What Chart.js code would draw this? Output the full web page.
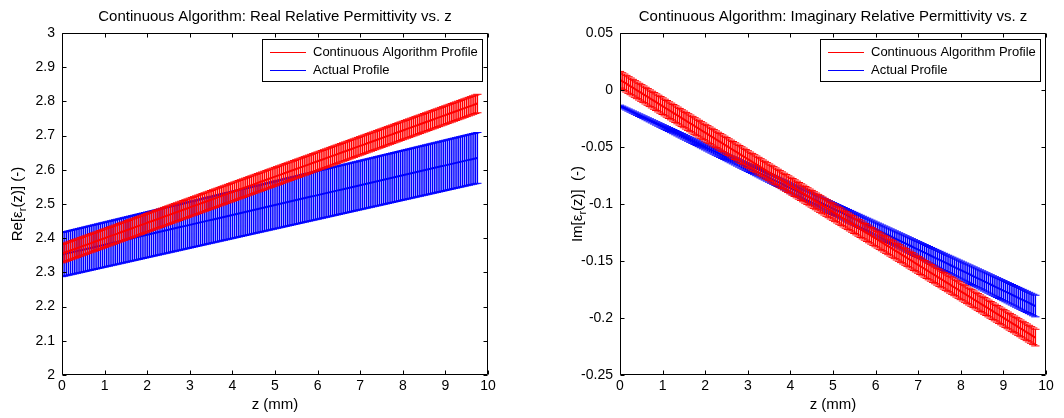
<!DOCTYPE html>
<html>
<head>
<meta charset="utf-8">
<title>Continuous Algorithm: Relative Permittivity vs. z</title>
<script src="https://cdn.jsdelivr.net/npm/chart.js@4.4.1/dist/chart.umd.min.js"></script>
<style>
  html, body { margin: 0; padding: 0; background: #fff; }
  #wrap { position: relative; width: 1064px; height: 418px; overflow: hidden; }
  .panel { position: absolute; top: 0; width: 532px; height: 418px; }
</style>
</head>
<body>
<div id="wrap">
  <div class="panel" style="left:0"><canvas id="re-chart" width="532" height="418"></canvas></div>
  <div class="panel" style="left:532px"><canvas id="im-chart" width="532" height="418"></canvas></div>
</div>
<script>
// z positions (mm), shared by every profile
const zMm = [
  0,0.05,0.1,0.15,0.2,0.25,0.3,0.35,0.4,0.45,0.5,0.55,0.6,0.65,0.7,0.75,0.8,0.85,0.9,0.95,
  1,1.05,1.1,1.15,1.2,1.25,1.3,1.35,1.4,1.45,1.5,1.55,1.6,1.65,1.7,1.75,1.8,1.85,1.9,1.95,
  2,2.05,2.1,2.15,2.2,2.25,2.3,2.35,2.4,2.45,2.5,2.55,2.6,2.65,2.7,2.75,2.8,2.85,2.9,2.95,
  3,3.05,3.1,3.15,3.2,3.25,3.3,3.35,3.4,3.45,3.5,3.55,3.6,3.65,3.7,3.75,3.8,3.85,3.9,3.95,
  4,4.05,4.1,4.15,4.2,4.25,4.3,4.35,4.4,4.45,4.5,4.55,4.6,4.65,4.7,4.75,4.8,4.85,4.9,4.95,
  5,5.05,5.1,5.15,5.2,5.25,5.3,5.35,5.4,5.45,5.5,5.55,5.6,5.65,5.7,5.75,5.8,5.85,5.9,5.95,
  6,6.05,6.1,6.15,6.2,6.25,6.3,6.35,6.4,6.45,6.5,6.55,6.6,6.65,6.7,6.75,6.8,6.85,6.9,6.95,
  7,7.05,7.1,7.15,7.2,7.25,7.3,7.35,7.4,7.45,7.5,7.55,7.6,7.65,7.7,7.75,7.8,7.85,7.9,7.95,
  8,8.05,8.1,8.15,8.2,8.25,8.3,8.35,8.4,8.45,8.5,8.55,8.6,8.65,8.7,8.75,8.8,8.85,8.9,8.95,
  9,9.05,9.1,9.15,9.2,9.25,9.3,9.35,9.4,9.45,9.5,9.55,9.6,9.65,9.7,9.75
];

const xTicks = [0, 1, 2, 3, 4, 5, 6, 7, 8, 9, 10];
const xTickLabels = ['0', '1', '2', '3', '4', '5', '6', '7', '8', '9', '10'];
const reTicks = [2, 2.1, 2.2, 2.3, 2.4, 2.5, 2.6, 2.7, 2.8, 2.9, 3];
const reTickLabels = ['2', '2.1', '2.2', '2.3', '2.4', '2.5', '2.6', '2.7', '2.8', '2.9', '3'];
const imTicks = [-0.25, -0.2, -0.15, -0.1, -0.05, 0, 0.05];
const imTickLabels = ['-0.25', '-0.2', '-0.15', '-0.1', '-0.05', '0', '0.05'];

const seriesNames = ['Continuous Algorithm Profile', 'Actual Profile'];
const seriesColors = ['#ff0000', '#0000ff'];

// Re[eps_r] - continuous algorithm (red)
const reAlgo = [
  2.355,2.35725,2.3595,2.36175,2.364,2.36625,2.3685,2.37075,
  2.373,2.37525,2.3775,2.37975,2.382,2.38425,2.3865,2.38875,
  2.391,2.39325,2.3955,2.39775,2.4,2.40225,2.4045,2.40675,
  2.409,2.41125,2.4135,2.41575,2.418,2.42025,2.4225,2.42475,
  2.427,2.42925,2.4315,2.43375,2.436,2.43825,2.4405,2.44275,
  2.445,2.44725,2.4495,2.45175,2.454,2.45625,2.4585,2.46075,
  2.463,2.46525,2.4675,2.46975,2.472,2.47425,2.4765,2.47875,
  2.481,2.48325,2.4855,2.48775,2.49,2.49225,2.4945,2.49675,
  2.499,2.50125,2.5035,2.50575,2.508,2.51025,2.5125,2.51475,
  2.517,2.51925,2.5215,2.52375,2.526,2.52825,2.5305,2.53275,
  2.535,2.53725,2.5395,2.54175,2.544,2.54625,2.5485,2.55075,
  2.553,2.55525,2.5575,2.55975,2.562,2.56425,2.5665,2.56875,
  2.571,2.57325,2.5755,2.57775,2.58,2.58225,2.5845,2.58675,
  2.589,2.59125,2.5935,2.59575,2.598,2.60025,2.6025,2.60475,
  2.607,2.60925,2.6115,2.61375,2.616,2.61825,2.6205,2.62275,
  2.625,2.62725,2.6295,2.63175,2.634,2.63625,2.6385,2.64075,
  2.643,2.64525,2.6475,2.64975,2.652,2.65425,2.6565,2.65875,
  2.661,2.66325,2.6655,2.66775,2.67,2.67225,2.6745,2.67675,
  2.679,2.68125,2.6835,2.68575,2.688,2.69025,2.6925,2.69475,
  2.697,2.69925,2.7015,2.70375,2.706,2.70825,2.7105,2.71275,
  2.715,2.71725,2.7195,2.72175,2.724,2.72625,2.7285,2.73075,
  2.733,2.73525,2.7375,2.73975,2.742,2.74425,2.7465,2.74875,
  2.751,2.75325,2.7555,2.75775,2.76,2.76225,2.7645,2.76675,
  2.769,2.77125,2.7735,2.77575,2.778,2.78025,2.7825,2.78475,
  2.787,2.78925,2.7915,2.79375
];
const reAlgoErr = [
  0.027,0.027,0.027,0.027,0.027,0.027,0.027,0.027,0.027,0.027,0.027,0.027,0.027,0.027,
  0.027,0.027,0.027,0.027,0.027,0.027,0.027,0.027,0.027,0.027,0.027,0.027,0.027,0.027,
  0.027,0.027,0.027,0.027,0.027,0.027,0.027,0.027,0.027,0.027,0.027,0.027,0.027,0.027,
  0.027,0.027,0.027,0.027,0.027,0.027,0.027,0.027,0.027,0.027,0.027,0.027,0.027,0.027,
  0.027,0.027,0.027,0.027,0.027,0.027,0.027,0.027,0.027,0.027,0.027,0.027,0.027,0.027,
  0.027,0.027,0.027,0.027,0.027,0.027,0.027,0.027,0.027,0.027,0.027,0.027,0.027,0.027,
  0.027,0.027,0.027,0.027,0.027,0.027,0.027,0.027,0.027,0.027,0.027,0.027,0.027,0.027,
  0.027,0.027,0.027,0.027,0.027,0.027,0.027,0.027,0.027,0.027,0.027,0.027,0.027,0.027,
  0.027,0.027,0.027,0.027,0.027,0.027,0.027,0.027,0.027,0.027,0.027,0.027,0.027,0.027,
  0.027,0.027,0.027,0.027,0.027,0.027,0.027,0.027,0.027,0.027,0.027,0.027,0.027,0.027,
  0.027,0.027,0.027,0.027,0.027,0.027,0.027,0.027,0.027,0.027,0.027,0.027,0.027,0.027,
  0.027,0.027,0.027,0.027,0.027,0.027,0.027,0.027,0.027,0.027,0.027,0.027,0.027,0.027,
  0.027,0.027,0.027,0.027,0.027,0.027,0.027,0.027,0.027,0.027,0.027,0.027,0.027,0.027,
  0.027,0.027,0.027,0.027,0.027,0.027,0.027,0.027,0.027,0.027,0.027,0.027,0.027,0.027
];

// Re[eps_r] - actual profile (blue)
const reActual = [
  2.352,2.35345,2.3549,2.35635,2.3578,2.35925,2.3607,2.36215,
  2.3636,2.36505,2.3665,2.36795,2.3694,2.37085,2.3723,2.37375,
  2.3752,2.37665,2.3781,2.37955,2.381,2.38245,2.3839,2.38535,
  2.3868,2.38825,2.3897,2.39115,2.3926,2.39405,2.3955,2.39695,
  2.3984,2.39985,2.4013,2.40275,2.4042,2.40565,2.4071,2.40855,
  2.41,2.41145,2.4129,2.41435,2.4158,2.41725,2.4187,2.42015,
  2.4216,2.42305,2.4245,2.42595,2.4274,2.42885,2.4303,2.43175,
  2.4332,2.43465,2.4361,2.43755,2.439,2.44045,2.4419,2.44335,
  2.4448,2.44625,2.4477,2.44915,2.4506,2.45205,2.4535,2.45495,
  2.4564,2.45785,2.4593,2.46075,2.4622,2.46365,2.4651,2.46655,
  2.468,2.46945,2.4709,2.47235,2.4738,2.47525,2.4767,2.47815,
  2.4796,2.48105,2.4825,2.48395,2.4854,2.48685,2.4883,2.48975,
  2.4912,2.49265,2.4941,2.49555,2.497,2.49845,2.4999,2.50135,
  2.5028,2.50425,2.5057,2.50715,2.5086,2.51005,2.5115,2.51295,
  2.5144,2.51585,2.5173,2.51875,2.5202,2.52165,2.5231,2.52455,
  2.526,2.52745,2.5289,2.53035,2.5318,2.53325,2.5347,2.53615,
  2.5376,2.53905,2.5405,2.54195,2.5434,2.54485,2.5463,2.54775,
  2.5492,2.55065,2.5521,2.55355,2.555,2.55645,2.5579,2.55935,
  2.5608,2.56225,2.5637,2.56515,2.5666,2.56805,2.5695,2.57095,
  2.5724,2.57385,2.5753,2.57675,2.5782,2.57965,2.5811,2.58255,
  2.584,2.58545,2.5869,2.58835,2.5898,2.59125,2.5927,2.59415,
  2.5956,2.59705,2.5985,2.59995,2.6014,2.60285,2.6043,2.60575,
  2.6072,2.60865,2.6101,2.61155,2.613,2.61445,2.6159,2.61735,
  2.6188,2.62025,2.6217,2.62315,2.6246,2.62605,2.6275,2.62895,
  2.6304,2.63185,2.6333,2.63475
];
const reActualErr = [
  0.0645,0.06455,0.0646,0.06465,0.0647,0.06475,0.0648,0.06485,
  0.0649,0.06495,0.065,0.06505,0.0651,0.06515,0.0652,0.06525,
  0.0653,0.06535,0.0654,0.06545,0.0655,0.06555,0.0656,0.06565,
  0.0657,0.06575,0.0658,0.06585,0.0659,0.06595,0.066,0.06605,
  0.0661,0.06615,0.0662,0.06625,0.0663,0.06635,0.0664,0.06645,
  0.0665,0.06655,0.0666,0.06665,0.0667,0.06675,0.0668,0.06685,
  0.0669,0.06695,0.067,0.06705,0.0671,0.06715,0.0672,0.06725,
  0.0673,0.06735,0.0674,0.06745,0.0675,0.06755,0.0676,0.06765,
  0.0677,0.06775,0.0678,0.06785,0.0679,0.06795,0.068,0.06805,
  0.0681,0.06815,0.0682,0.06825,0.0683,0.06835,0.0684,0.06845,
  0.0685,0.06855,0.0686,0.06865,0.0687,0.06875,0.0688,0.06885,
  0.0689,0.06895,0.069,0.06905,0.0691,0.06915,0.0692,0.06925,
  0.0693,0.06935,0.0694,0.06945,0.0695,0.06955,0.0696,0.06965,
  0.0697,0.06975,0.0698,0.06985,0.0699,0.06995,0.07,0.07005,
  0.0701,0.07015,0.0702,0.07025,0.0703,0.07035,0.0704,0.07045,
  0.0705,0.07055,0.0706,0.07065,0.0707,0.07075,0.0708,0.07085,
  0.0709,0.07095,0.071,0.07105,0.0711,0.07115,0.0712,0.07125,
  0.0713,0.07135,0.0714,0.07145,0.0715,0.07155,0.0716,0.07165,
  0.0717,0.07175,0.0718,0.07185,0.0719,0.07195,0.072,0.07205,
  0.0721,0.07215,0.0722,0.07225,0.0723,0.07235,0.0724,0.07245,
  0.0725,0.07255,0.0726,0.07265,0.0727,0.07275,0.0728,0.07285,
  0.0729,0.07295,0.073,0.07305,0.0731,0.07315,0.0732,0.07325,
  0.0733,0.07335,0.0734,0.07345,0.0735,0.07355,0.0736,0.07365,
  0.0737,0.07375,0.0738,0.07385,0.0739,0.07395,0.074,0.07405,
  0.0741,0.07415,0.0742,0.07425
];

// Im[eps_r] - continuous algorithm (red)
const imAlgo = [
  0.009,0.00784,0.00668,0.00552,0.00436,0.0032,0.00204,0.00088,
  -0.00028,-0.00144,-0.0026,-0.00376,-0.00492,-0.00608,-0.00724,-0.0084,
  -0.00956,-0.01072,-0.01188,-0.01304,-0.0142,-0.01536,-0.01652,-0.01768,
  -0.01884,-0.02,-0.02116,-0.02232,-0.02348,-0.02464,-0.0258,-0.02696,
  -0.02812,-0.02928,-0.03044,-0.0316,-0.03276,-0.03392,-0.03508,-0.03624,
  -0.0374,-0.03856,-0.03972,-0.04088,-0.04204,-0.0432,-0.04436,-0.04552,
  -0.04668,-0.04784,-0.049,-0.05016,-0.05132,-0.05248,-0.05364,-0.0548,
  -0.05596,-0.05712,-0.05828,-0.05944,-0.0606,-0.06176,-0.06292,-0.06408,
  -0.06524,-0.0664,-0.06756,-0.06872,-0.06988,-0.07104,-0.0722,-0.07336,
  -0.07452,-0.07568,-0.07684,-0.078,-0.07916,-0.08032,-0.08148,-0.08264,
  -0.0838,-0.08496,-0.08612,-0.08728,-0.08844,-0.0896,-0.09076,-0.09192,
  -0.09308,-0.09424,-0.0954,-0.09656,-0.09772,-0.09888,-0.10004,-0.1012,
  -0.10236,-0.10352,-0.10468,-0.10584,-0.107,-0.10816,-0.10932,-0.11048,
  -0.11164,-0.1128,-0.11396,-0.11512,-0.11628,-0.11744,-0.1186,-0.11976,
  -0.12092,-0.12208,-0.12324,-0.1244,-0.12556,-0.12672,-0.12788,-0.12904,
  -0.1302,-0.13136,-0.13252,-0.13368,-0.13484,-0.136,-0.13716,-0.13832,
  -0.13948,-0.14064,-0.1418,-0.14296,-0.14412,-0.14528,-0.14644,-0.1476,
  -0.14876,-0.14992,-0.15108,-0.15224,-0.1534,-0.15456,-0.15572,-0.15688,
  -0.15804,-0.1592,-0.16036,-0.16152,-0.16268,-0.16384,-0.165,-0.16616,
  -0.16732,-0.16848,-0.16964,-0.1708,-0.17196,-0.17312,-0.17428,-0.17544,
  -0.1766,-0.17776,-0.17892,-0.18008,-0.18124,-0.1824,-0.18356,-0.18472,
  -0.18588,-0.18704,-0.1882,-0.18936,-0.19052,-0.19168,-0.19284,-0.194,
  -0.19516,-0.19632,-0.19748,-0.19864,-0.1998,-0.20096,-0.20212,-0.20328,
  -0.20444,-0.2056,-0.20676,-0.20792,-0.20908,-0.21024,-0.2114,-0.21256,
  -0.21372,-0.21488,-0.21604,-0.2172
];
const imAlgoErr = [
  0.0073,0.0073,0.0073,0.0073,0.0073,0.0073,0.0073,0.0073,0.0073,0.0073,0.0073,0.0073,0.0073,0.0073,
  0.0073,0.0073,0.0073,0.0073,0.0073,0.0073,0.0073,0.0073,0.0073,0.0073,0.0073,0.0073,0.0073,0.0073,
  0.0073,0.0073,0.0073,0.0073,0.0073,0.0073,0.0073,0.0073,0.0073,0.0073,0.0073,0.0073,0.0073,0.0073,
  0.0073,0.0073,0.0073,0.0073,0.0073,0.0073,0.0073,0.0073,0.0073,0.0073,0.0073,0.0073,0.0073,0.0073,
  0.0073,0.0073,0.0073,0.0073,0.0073,0.0073,0.0073,0.0073,0.0073,0.0073,0.0073,0.0073,0.0073,0.0073,
  0.0073,0.0073,0.0073,0.0073,0.0073,0.0073,0.0073,0.0073,0.0073,0.0073,0.0073,0.0073,0.0073,0.0073,
  0.0073,0.0073,0.0073,0.0073,0.0073,0.0073,0.0073,0.0073,0.0073,0.0073,0.0073,0.0073,0.0073,0.0073,
  0.0073,0.0073,0.0073,0.0073,0.0073,0.0073,0.0073,0.0073,0.0073,0.0073,0.0073,0.0073,0.0073,0.0073,
  0.0073,0.0073,0.0073,0.0073,0.0073,0.0073,0.0073,0.0073,0.0073,0.0073,0.0073,0.0073,0.0073,0.0073,
  0.0073,0.0073,0.0073,0.0073,0.0073,0.0073,0.0073,0.0073,0.0073,0.0073,0.0073,0.0073,0.0073,0.0073,
  0.0073,0.0073,0.0073,0.0073,0.0073,0.0073,0.0073,0.0073,0.0073,0.0073,0.0073,0.0073,0.0073,0.0073,
  0.0073,0.0073,0.0073,0.0073,0.0073,0.0073,0.0073,0.0073,0.0073,0.0073,0.0073,0.0073,0.0073,0.0073,
  0.0073,0.0073,0.0073,0.0073,0.0073,0.0073,0.0073,0.0073,0.0073,0.0073,0.0073,0.0073,0.0073,0.0073,
  0.0073,0.0073,0.0073,0.0073,0.0073,0.0073,0.0073,0.0073,0.0073,0.0073,0.0073,0.0073,0.0073,0.0073
];

// Im[eps_r] - actual profile (blue)
const imActual = [
  -0.014,-0.0149,-0.0158,-0.0167,-0.0176,-0.0185,-0.0194,-0.0203,
  -0.0212,-0.0221,-0.023,-0.0239,-0.0248,-0.0257,-0.0266,-0.0275,
  -0.0284,-0.0293,-0.0302,-0.0311,-0.032,-0.0329,-0.0338,-0.0347,
  -0.0356,-0.0365,-0.0374,-0.0383,-0.0392,-0.0401,-0.041,-0.0419,
  -0.0428,-0.0437,-0.0446,-0.0455,-0.0464,-0.0473,-0.0482,-0.0491,
  -0.05,-0.0509,-0.0518,-0.0527,-0.0536,-0.0545,-0.0554,-0.0563,
  -0.0572,-0.0581,-0.059,-0.0599,-0.0608,-0.0617,-0.0626,-0.0635,
  -0.0644,-0.0653,-0.0662,-0.0671,-0.068,-0.0689,-0.0698,-0.0707,
  -0.0716,-0.0725,-0.0734,-0.0743,-0.0752,-0.0761,-0.077,-0.0779,
  -0.0788,-0.0797,-0.0806,-0.0815,-0.0824,-0.0833,-0.0842,-0.0851,
  -0.086,-0.0869,-0.0878,-0.0887,-0.0896,-0.0905,-0.0914,-0.0923,
  -0.0932,-0.0941,-0.095,-0.0959,-0.0968,-0.0977,-0.0986,-0.0995,
  -0.1004,-0.1013,-0.1022,-0.1031,-0.104,-0.1049,-0.1058,-0.1067,
  -0.1076,-0.1085,-0.1094,-0.1103,-0.1112,-0.1121,-0.113,-0.1139,
  -0.1148,-0.1157,-0.1166,-0.1175,-0.1184,-0.1193,-0.1202,-0.1211,
  -0.122,-0.1229,-0.1238,-0.1247,-0.1256,-0.1265,-0.1274,-0.1283,
  -0.1292,-0.1301,-0.131,-0.1319,-0.1328,-0.1337,-0.1346,-0.1355,
  -0.1364,-0.1373,-0.1382,-0.1391,-0.14,-0.1409,-0.1418,-0.1427,
  -0.1436,-0.1445,-0.1454,-0.1463,-0.1472,-0.1481,-0.149,-0.1499,
  -0.1508,-0.1517,-0.1526,-0.1535,-0.1544,-0.1553,-0.1562,-0.1571,
  -0.158,-0.1589,-0.1598,-0.1607,-0.1616,-0.1625,-0.1634,-0.1643,
  -0.1652,-0.1661,-0.167,-0.1679,-0.1688,-0.1697,-0.1706,-0.1715,
  -0.1724,-0.1733,-0.1742,-0.1751,-0.176,-0.1769,-0.1778,-0.1787,
  -0.1796,-0.1805,-0.1814,-0.1823,-0.1832,-0.1841,-0.185,-0.1859,
  -0.1868,-0.1877,-0.1886,-0.1895
];
const imActualErr = [
  0.0007,0.000745,0.00079,0.000835,0.00088,0.000925,0.00097,0.001015,
  0.00106,0.001105,0.00115,0.001195,0.00124,0.001285,0.00133,0.001375,
  0.00142,0.001465,0.00151,0.001555,0.0016,0.001645,0.00169,0.001735,
  0.00178,0.001825,0.00187,0.001915,0.00196,0.002005,0.00205,0.002095,
  0.00214,0.002185,0.00223,0.002275,0.00232,0.002365,0.00241,0.002455,
  0.0025,0.002545,0.00259,0.002635,0.00268,0.002725,0.00277,0.002815,
  0.00286,0.002905,0.00295,0.002995,0.00304,0.003085,0.00313,0.003175,
  0.00322,0.003265,0.00331,0.003355,0.0034,0.003445,0.00349,0.003535,
  0.00358,0.003625,0.00367,0.003715,0.00376,0.003805,0.00385,0.003895,
  0.00394,0.003985,0.00403,0.004075,0.00412,0.004165,0.00421,0.004255,
  0.0043,0.004345,0.00439,0.004435,0.00448,0.004525,0.00457,0.004615,
  0.00466,0.004705,0.00475,0.004795,0.00484,0.004885,0.00493,0.004975,
  0.00502,0.005065,0.00511,0.005155,0.0052,0.005245,0.00529,0.005335,
  0.00538,0.005425,0.00547,0.005515,0.00556,0.005605,0.00565,0.005695,
  0.00574,0.005785,0.00583,0.005875,0.00592,0.005965,0.00601,0.006055,
  0.0061,0.006145,0.00619,0.006235,0.00628,0.006325,0.00637,0.006415,
  0.00646,0.006505,0.00655,0.006595,0.00664,0.006685,0.00673,0.006775,
  0.00682,0.006865,0.00691,0.006955,0.007,0.007045,0.00709,0.007135,
  0.00718,0.007225,0.00727,0.007315,0.00736,0.007405,0.00745,0.007495,
  0.00754,0.007585,0.00763,0.007675,0.00772,0.007765,0.00781,0.007855,
  0.0079,0.007945,0.00799,0.008035,0.00808,0.008125,0.00817,0.008215,
  0.00826,0.008305,0.00835,0.008395,0.00844,0.008485,0.00853,0.008575,
  0.00862,0.008665,0.00871,0.008755,0.0088,0.008845,0.00889,0.008935,
  0.00898,0.009025,0.00907,0.009115,0.00916,0.009205,0.00925,0.009295,
  0.00934,0.009385,0.00943,0.009475
];

const FONT = '"Liberation Sans", Arial, Helvetica, sans-serif';
const CAP_HALF = 0.0975; // half width of an error bar cap, in mm
const TICK_LEN = 4;
Chart.defaults.font.family = FONT;
Chart.defaults.color = '#000';

// vertical error bars with caps, drawn right after each dataset so stacking order is kept
const errorBarPlugin = {
  id: 'errorBars',
  afterDatasetDraw(chart, args) {
    const ds = chart.data.datasets[args.index];
    if (!ds.errors) return;
    const { ctx, chartArea: a, scales: { x, y } } = chart;
    const pts = ds.data.map((p, i) => ({
      px: x.getPixelForValue(p.x),
      x0: x.getPixelForValue(p.x - CAP_HALF),
      x1: x.getPixelForValue(p.x + CAP_HALF),
      top: y.getPixelForValue(p.y + ds.errors[i]),
      bot: y.getPixelForValue(p.y - ds.errors[i])
    }));
    ctx.save();
    ctx.beginPath();
    ctx.rect(a.left, a.top, a.right - a.left, a.bottom - a.top);
    ctx.clip();
    ctx.strokeStyle = ds.borderColor;
    // stems
    ctx.lineWidth = 1.5;
    ctx.beginPath();
    pts.forEach(p => { ctx.moveTo(p.px, p.top); ctx.lineTo(p.px, p.bot); });
    ctx.stroke();
    // caps
    ctx.lineWidth = 1;
    ctx.beginPath();
    pts.forEach(p => {
      ctx.moveTo(p.x0, p.top); ctx.lineTo(p.x1, p.top);
      ctx.moveTo(p.x0, p.bot); ctx.lineTo(p.x1, p.bot);
    });
    ctx.stroke();
    ctx.restore();
  }
};

// MATLAB-looking axes box, inward ticks, title, y label and legend
const framePlugin = {
  id: 'matlabFrame',
  afterDraw(chart, args, opts) {
    const { ctx, chartArea: a, scales: { x, y } } = chart;
    ctx.save();
    ctx.strokeStyle = '#000';
    ctx.lineWidth = 1;
    const L = Math.round(a.left) + 0.5, R = Math.round(a.right) - 0.5;
    const T = Math.round(a.top) + 0.5, B = Math.round(a.bottom) - 0.5;
    ctx.beginPath();
    ctx.rect(L, T, R - L, B - T);
    x.ticks.forEach(t => {
      const px = Math.round(x.getPixelForValue(t.value)) + 0.5;
      ctx.moveTo(px, B); ctx.lineTo(px, B - TICK_LEN);
      ctx.moveTo(px, T); ctx.lineTo(px, T + TICK_LEN);
    });
    y.ticks.forEach(t => {
      const py = Math.round(y.getPixelForValue(t.value)) + 0.5;
      ctx.moveTo(L, py); ctx.lineTo(L + TICK_LEN, py);
      ctx.moveTo(R, py); ctx.lineTo(R - TICK_LEN, py);
    });
    ctx.stroke();

    // title
    ctx.fillStyle = '#000';
    ctx.font = '15px ' + FONT;
    ctx.textAlign = 'center';
    ctx.textBaseline = 'alphabetic';
    ctx.fillText(opts.title, (a.left + a.right) / 2, 21);

    // y label with subscript r
    const big = '15px ' + FONT, small = '11px ' + FONT;
    const parts = [[opts.yPrefix + '[\u03b5', big, 0], ['r', small, 4], [opts.ySuffix, big, 0]];
    let total = 0;
    parts.forEach(pt => { ctx.font = pt[1]; total += ctx.measureText(pt[0]).width; });
    ctx.translate(opts.yLabelX, (a.top + a.bottom) / 2);
    ctx.rotate(-Math.PI / 2);
    ctx.textAlign = 'left';
    let cx = -total / 2;
    parts.forEach(pt => {
      ctx.font = pt[1];
      ctx.fillText(pt[0], cx, 5 + pt[2]);
      cx += ctx.measureText(pt[0]).width;
    });
    ctx.setTransform(1, 0, 0, 1, 0, 0);

    // legend box
    ctx.font = '13px ' + FONT;
    const textW = Math.max(...chart.data.datasets.map(d => ctx.measureText(d.label).width));
    const boxW = Math.round(51 + textW + 4), boxH = 42;
    const bx = Math.round(a.right) - 6 - boxW, by = Math.round(a.top) + 6;
    ctx.fillStyle = '#fff';
    ctx.fillRect(bx, by, boxW, boxH);
    ctx.strokeRect(bx + 0.5, by + 0.5, boxW, boxH);
    ctx.textBaseline = 'middle';
    ctx.lineWidth = 1;
    chart.data.datasets.forEach((d, i) => {
      const ly = by + 13 + i * 18 + 0.5;
      ctx.strokeStyle = d.borderColor;
      ctx.beginPath();
      ctx.moveTo(bx + 8, ly); ctx.lineTo(bx + 44, ly);
      ctx.stroke();
      ctx.fillStyle = '#000';
      ctx.fillText(d.label, bx + 51, ly);
    });
    ctx.restore();
  }
};

function buildChart(canvasId, o) {
  const datasets = [o.algo, o.actual].map((vals, s) => ({
    label: seriesNames[s],
    data: zMm.map((z, i) => ({ x: z, y: vals[i] })),
    errors: s === 0 ? o.algoErr : o.actualErr,
    borderColor: seriesColors[s],
    borderWidth: 2,
    pointRadius: 0,
    fill: false,
    tension: 0
  }));
  return new Chart(document.getElementById(canvasId), {
    type: 'line',
    data: { datasets },
    options: {
      responsive: false,
      animation: false,
      events: [],
      layout: { padding: { top: 33, right: o.padRight, bottom: 0, left: 0 } },
      scales: {
        x: {
          type: 'linear', min: 0, max: 10,
          afterBuildTicks: s => { s.ticks = xTicks.map(v => ({ value: v })); },
          afterFit: s => { s.height = 43; },
          grid: { display: false, drawTicks: false },
          border: { display: false },
          ticks: { color: '#000', font: { size: 14 }, padding: 3, maxRotation: 0, autoSkip: false,
                   callback: (v, i) => xTickLabels[i] },
          title: { display: true, text: 'z (mm)', color: '#000', font: { size: 15 },
                   padding: { top: 0, bottom: 4 } }
        },
        y: {
          type: 'linear', min: o.yTicks[0], max: o.yTicks[o.yTicks.length - 1],
          afterBuildTicks: s => { s.ticks = o.yTicks.map(v => ({ value: v })); },
          afterFit: s => { s.width = o.axisWidth; },
          grid: { display: false, drawTicks: false },
          border: { display: false },
          ticks: { color: '#000', font: { size: 14 }, padding: 7, autoSkip: false,
                   callback: (v, i) => o.yTickLabels[i] }
        }
      },
      plugins: {
        legend: { display: false },
        tooltip: { enabled: false },
        matlabFrame: { title: o.title, yPrefix: o.yPrefix, ySuffix: o.ySuffix, yLabelX: o.yLabelX }
      }
    },
    plugins: [errorBarPlugin, framePlugin]
  });
}

buildChart('re-chart', {
  algo: reAlgo, algoErr: reAlgoErr, actual: reActual, actualErr: reActualErr,
  yTicks: reTicks, yTickLabels: reTickLabels,
  axisWidth: 62, padRight: 44, yLabelX: 17,
  title: 'Continuous Algorithm: Real Relative Permittivity vs. z',
  yPrefix: 'Re', ySuffix: '(z)] (-)'
});

buildChart('im-chart', {
  algo: imAlgo, algoErr: imAlgoErr, actual: imActual, actualErr: imActualErr,
  yTicks: imTicks, yTickLabels: imTickLabels,
  axisWidth: 88, padRight: 18, yLabelX: 45,
  title: 'Continuous Algorithm: Imaginary Relative Permittivity vs. z',
  yPrefix: 'Im', ySuffix: '(z)]  (-)'
});
</script>
</body>
</html>
